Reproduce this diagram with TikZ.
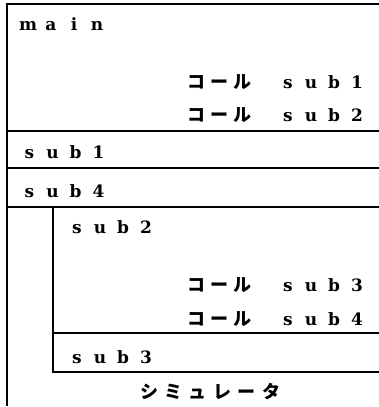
\documentclass[tikz,border=0pt]{standalone}
\usepackage{fontspec}
\setmainfont{DejaVu Serif}
\newfontfamily\jp{Noto Sans CJK JP}
\newlength\lpitch
% set each character in a box of fixed width
\newcommand\spaced[2]{\setlength\lpitch{#1}\spacedx#2\relax}
\def\spacedx#1{\ifx\relax#1\else\makebox[\lpitch]{#1}\expandafter\spacedx\fi}
\begin{document}
\begin{tikzpicture}[x=1pt,y=-1pt,
  rule/.style={line width=1.2pt,line cap=rect},
  lat/.style={inner sep=0pt,outer sep=0pt,anchor=base west,font=\fontsize{17}{20}\selectfont\bfseries},
  kana/.style={inner sep=0pt,outer sep=0pt,anchor=base west,font=\fontsize{18}{20}\selectfont\jp\bfseries}]
\useasboundingbox (0,0) rectangle (379,407);
% frame and block separators
\coordinate (tl) at (7,4);
\coordinate (tr) at (379,4);
\coordinate (bl) at (7,405);
\draw[rule] (tr) -- (tl) -- (bl);
\coordinate (a1) at (7,131);   \coordinate (a2) at (379,131);
\coordinate (b1) at (7,168);   \coordinate (b2) at (379,168);
\coordinate (c1) at (7,207);   \coordinate (c2) at (379,207);
\draw[rule] (a1) -- (a2);
\draw[rule] (b1) -- (b2);
\draw[rule] (c1) -- (c2);
% nested block of sub4
\coordinate (i1) at (53,207);
\coordinate (i2) at (53,372);
\coordinate (i3) at (379,372);
\coordinate (d1) at (53,333);  \coordinate (d2) at (379,333);
\draw[rule] (i1) -- (i2) -- (i3);
\draw[rule] (d1) -- (d2);
% texts
\node[lat] (main) at (16.5,30) {\spaced{23pt}{main}};
\node[kana] (k1) at (185,88) {\spaced{23pt}{コール}};
\node[lat] (s1) at (276.5,88) {\spaced{23pt}{sub1}};
\node[kana] (k2) at (185,121.5) {\spaced{23pt}{コール}};
\node[lat] (s2) at (276.5,121.5) {\spaced{23pt}{sub2}};
\node[lat] (sub1) at (18,158) {\spaced{23pt}{sub1}};
\node[lat] (sub4) at (18,197) {\spaced{23pt}{sub4}};
\node[lat] (sub2) at (65.5,233) {\spaced{23pt}{sub2}};
\node[kana] (k3) at (185,291.5) {\spaced{23pt}{コール}};
\node[lat] (s3) at (276.5,291.5) {\spaced{23pt}{sub3}};
\node[kana] (k4) at (185,325) {\spaced{23pt}{コール}};
\node[lat] (s4) at (276.5,325) {\spaced{23pt}{sub4}};
\node[lat] (sub3) at (65.5,363) {\spaced{23pt}{sub3}};
\node[kana] (sim) at (137,398) {\spaced{24.4pt}{シミュレータ}};
\end{tikzpicture}
\end{document}
